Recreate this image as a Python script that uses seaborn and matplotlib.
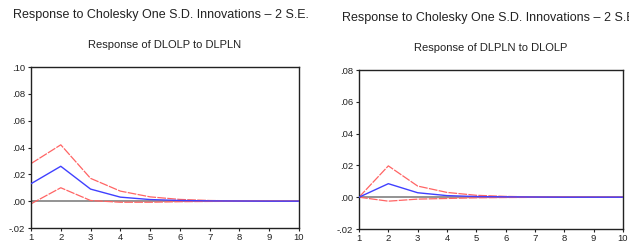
import matplotlib
matplotlib.use("Agg")
import matplotlib.pyplot as plt
import seaborn as sns
import pandas as pd
import numpy as np

periods = [1, 2, 3, 4, 5, 6, 7, 8, 9, 10]

left_resp = [0.013, 0.026, 0.009, 0.003, 0.0012, 0.0005, 0.0002, 0.0001, 0.0, 0.0]
left_upper = [0.028, 0.042, 0.017, 0.0075, 0.0032, 0.0013, 0.0005, 0.0002, 0.0001, 0.0]
left_lower = [-0.002, 0.010, 0.0005, -0.0008, -0.0008, -0.0004, -0.0002, -0.0001, 0.0, 0.0]

right_resp = [0.0, 0.0085, 0.0028, 0.001, 0.0004, 0.0002, 0.0001, 0.0, 0.0, 0.0]
right_upper = [0.0, 0.0197, 0.007, 0.003, 0.0012, 0.0005, 0.0002, 0.0001, 0.0, 0.0]
right_lower = [0.0, -0.0025, -0.0012, -0.0008, -0.0004, -0.0002, -0.0001, 0.0, 0.0, 0.0]

left_yticks = [-0.02, 0.00, 0.02, 0.04, 0.06, 0.08, 0.10]
right_yticks = [-0.02, 0.00, 0.02, 0.04, 0.06, 0.08]

main_title = "Response to Cholesky One S.D. Innovations \u2013 2 S.E."
left_title = "Response of DLOLP to DLPLN"
right_title = "Response of DLPLN to DLOLP"

sns.set_style("white")
plt.rcParams['font.family'] = ['Liberation Sans', 'DejaVu Sans']

W, H = 629, 243
fig = plt.figure(figsize=(W / 100, H / 100), dpi=100)

def px_axes(l, t, r, b):
    return fig.add_axes([l / W, 1 - b / H, (r - l) / W, (b - t) / H])

def fmt(v):
    s = f"{v:.2f}"
    return s.replace("0.", ".")

def panel(ax, resp, up, lo, yticks, title):
    df = pd.DataFrame({"period": periods, "resp": resp, "up": up, "lo": lo})
    ax.axhline(0, color="#808080", lw=1.2, zorder=1)
    sns.lineplot(data=df, x="period", y="up", ax=ax, color="#ff6464", lw=0.9,
                 linestyle=(0, (7, 1)), zorder=2)
    sns.lineplot(data=df, x="period", y="lo", ax=ax, color="#ff6464", lw=0.9,
                 linestyle=(0, (7, 1)), zorder=2)
    sns.lineplot(data=df, x="period", y="resp", ax=ax, color="#4040ff", lw=1.0, zorder=3)
    ax.set_xlim(1, 10)
    ax.set_ylim(yticks[0], yticks[-1])
    ax.set_xticks(periods)
    ax.set_xticklabels([str(p) for p in periods])
    ax.set_yticks(yticks)
    ax.set_yticklabels([fmt(v) for v in yticks])
    ax.set_xlabel("")
    ax.set_ylabel("")
    ax.tick_params(axis="both", direction="out", length=2.5, width=0.8, labelsize=6.8,
                   bottom=True, left=True, colors="#222222")
    ax.tick_params(axis="x", pad=1)
    ax.tick_params(axis="y", pad=1.5)
    for s in ax.spines.values():
        s.set_visible(True)
        s.set_color("#222222")
        s.set_linewidth(1.0)
    ax.set_title(title, fontsize=8, pad=14, color="#222222")

ax1 = px_axes(31, 67, 299, 228)
panel(ax1, left_resp, left_upper, left_lower, left_yticks, left_title)
ax2 = px_axes(359, 70, 623, 229)
panel(ax2, right_resp, right_upper, right_lower, right_yticks, right_title)

fig.text(13 / W, 1 - 15 / H, main_title, fontsize=9.0, ha="left", va="center", color="#222222")
fig.text(342 / W, 1 - 18 / H, main_title, fontsize=9.0, ha="left", va="center", color="#222222")

fig.savefig("out.png", dpi=100)
